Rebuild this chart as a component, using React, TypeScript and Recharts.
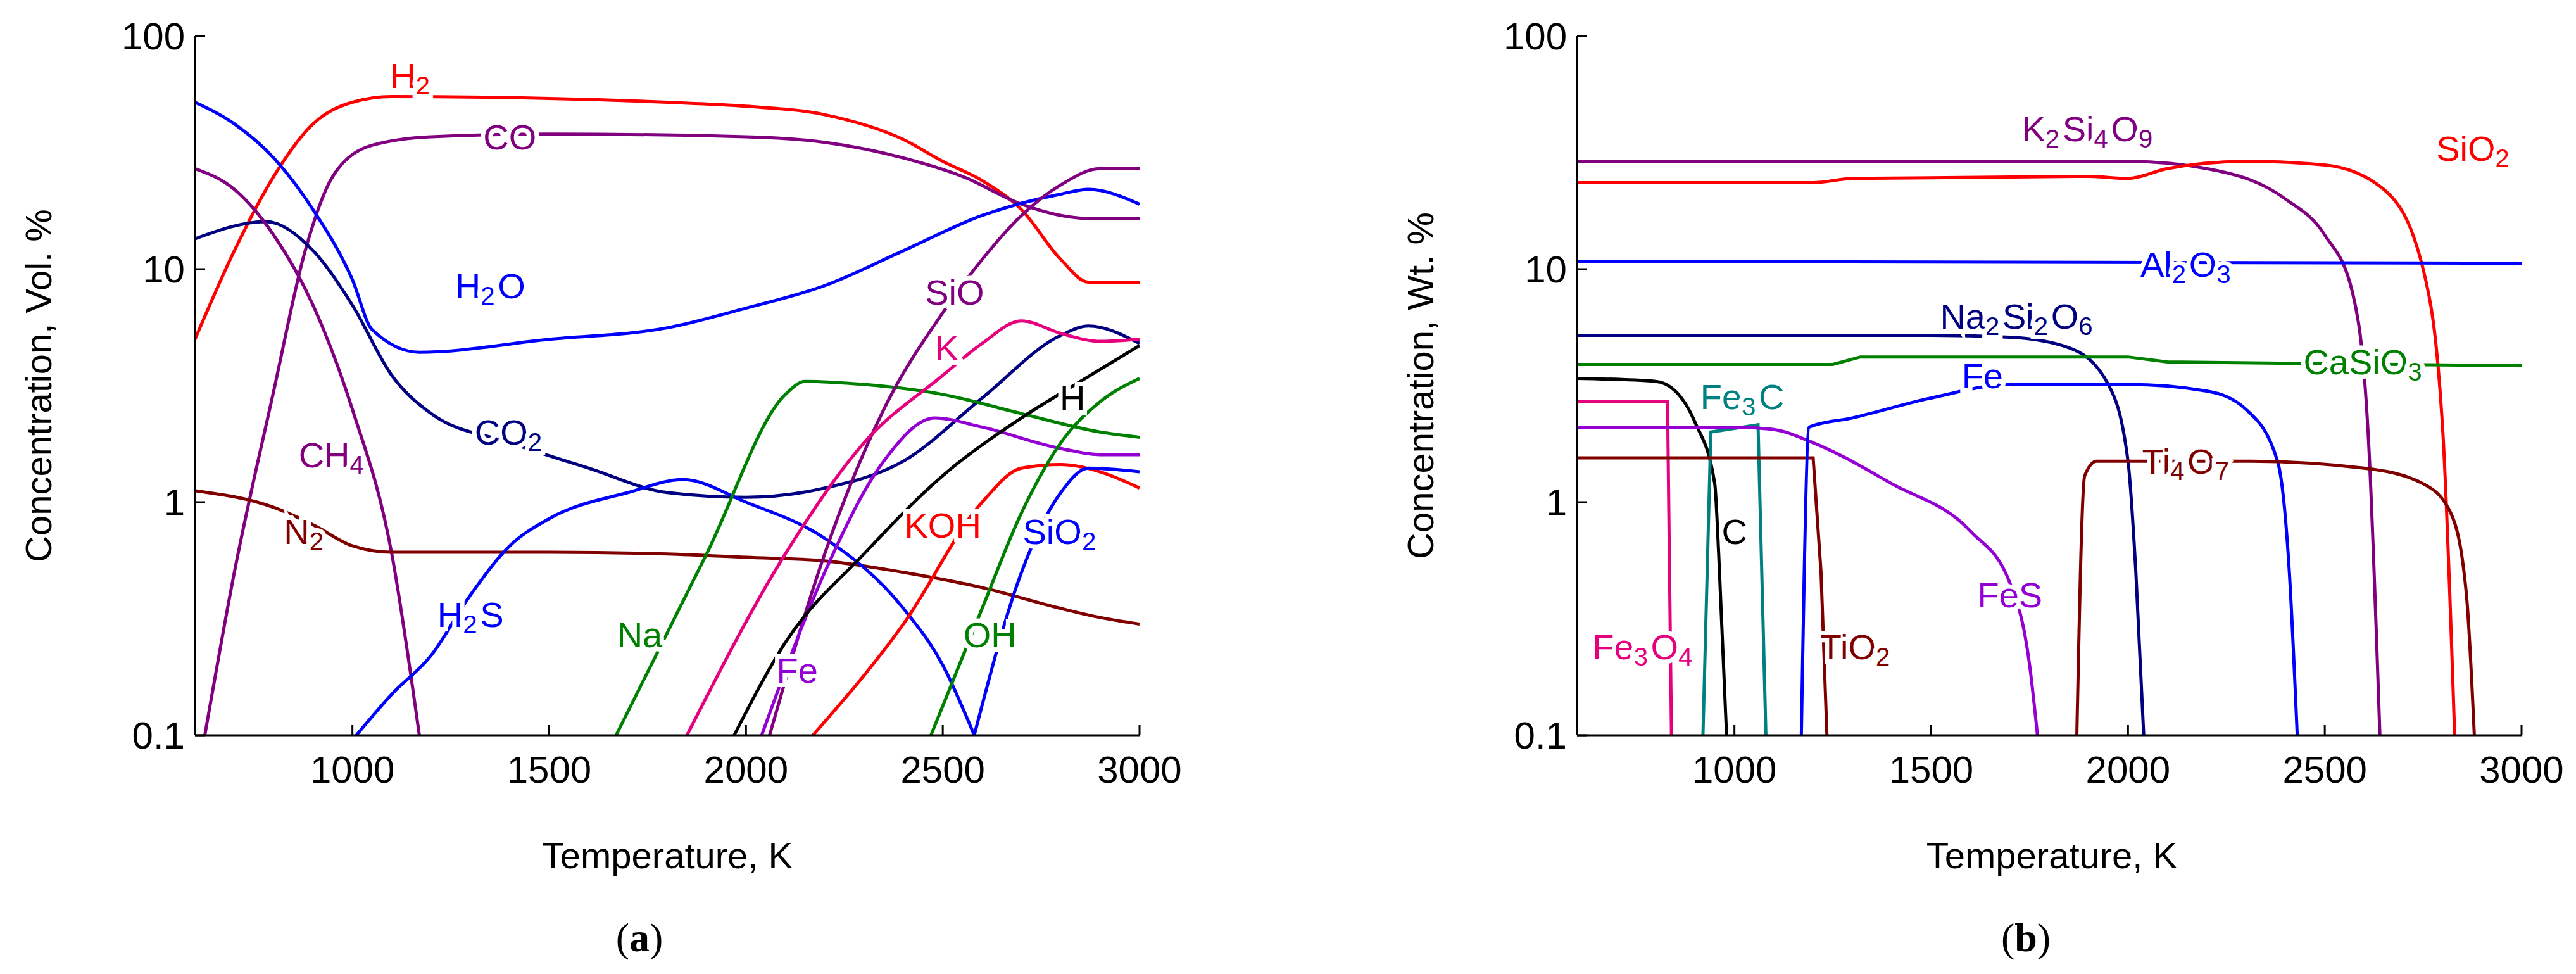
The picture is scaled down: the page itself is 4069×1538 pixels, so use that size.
import React from 'react'
import { LineChart, Line, XAxis, YAxis, ReferenceDot } from 'recharts'

type P = [number, number]

// (a) gas phase, Vol. %
const h2: P[] = [[600, 5], [700, 12], [800, 25], [900, 42], [1000, 52], [1100, 55], [1500, 54], [1800, 52], [2000, 50], [2200, 46], [2400, 36], [2500, 29], [2600, 24], [2700, 18], [2800, 11], [2870, 8.8], [3000, 8.8]]
const co: P[] = [[625, 0.1], [700, 0.5], [800, 3], [880, 12], [950, 25], [1050, 34], [1200, 37], [1500, 38], [2000, 37], [2200, 35], [2400, 30], [2550, 25], [2700, 19], [2800, 17], [2870, 16.5], [3000, 16.5]]
const h2o: P[] = [[600, 52], [700, 42], [800, 30], [900, 18], [1000, 9], [1050, 5.5], [1170, 4.4], [1500, 5], [1800, 5.6], [2000, 6.8], [2200, 8.5], [2400, 12], [2600, 17], [2800, 21], [2870, 22], [3000, 19]]
const co2: P[] = [[600, 13.5], [780, 16], [900, 12], [1000, 7], [1100, 3.5], [1200, 2.4], [1400, 1.8], [1600, 1.4], [1800, 1.1], [2000, 1.05], [2200, 1.15], [2400, 1.5], [2600, 2.8], [2800, 5.2], [2870, 5.7], [3000, 4.8]]
const ch4: P[] = [[600, 27], [700, 22], [800, 14], [900, 7], [1000, 2.5], [1100, 0.6], [1170, 0.1]]
const n2: P[] = [[600, 1.12], [800, 0.95], [900, 0.8], [1000, 0.65], [1100, 0.61], [1500, 0.61], [1800, 0.6], [2000, 0.58], [2200, 0.56], [2400, 0.5], [2600, 0.43], [2800, 0.35], [2900, 0.32], [3000, 0.3]]
const h2s: P[] = [[1010, 0.1], [1100, 0.15], [1200, 0.22], [1300, 0.4], [1400, 0.65], [1500, 0.85], [1700, 1.1], [1840, 1.25], [2000, 1.0], [2200, 0.7], [2400, 0.35], [2500, 0.2], [2580, 0.1]]
const na: P[] = [[1670, 0.1], [1900, 0.6], [2100, 2.9], [2150, 3.3], [2300, 3.2], [2500, 2.9], [2700, 2.4], [2900, 2.0], [3000, 1.9]]
const sio: P[] = [[2060, 0.1], [2200, 0.6], [2350, 2.5], [2500, 6.5], [2600, 11], [2700, 17], [2800, 23], [2900, 27], [3000, 27]]
const k: P[] = [[1850, 0.1], [2100, 0.6], [2300, 1.8], [2500, 3.5], [2600, 4.8], [2700, 6], [2800, 5.3], [2900, 4.9], [3000, 5]]
const fe: P[] = [[2040, 0.1], [2200, 0.5], [2350, 1.5], [2480, 2.3], [2600, 2.1], [2800, 1.7], [2900, 1.6], [3000, 1.6]]
const h: P[] = [[1970, 0.1], [2100, 0.25], [2300, 0.6], [2500, 1.3], [2700, 2.3], [2850, 3.3], [3000, 4.7]]
const koh: P[] = [[2170, 0.1], [2400, 0.3], [2600, 1.0], [2700, 1.4], [2800, 1.45], [2900, 1.35], [3000, 1.15]]
const oh: P[] = [[2470, 0.1], [2600, 0.35], [2700, 0.9], [2800, 1.8], [2900, 2.7], [3000, 3.4]]
const sio2g: P[] = [[2580, 0.1], [2700, 0.5], [2800, 1.1], [2870, 1.4], [3000, 1.35]]

// (b) condensed phase, Wt. %
const k2si4o9: P[] = [[600, 29], [2000, 29], [2200, 27], [2400, 20], [2500, 14], [2570, 8], [2610, 2], [2640, 0.1]]
const sio2c: P[] = [[600, 23.5], [1200, 23.5], [1300, 24.5], [1900, 25], [2000, 24.5], [2100, 27], [2300, 29], [2500, 28], [2650, 22], [2750, 10], [2800, 2], [2830, 0.1]]
const al2o3: P[] = [[600, 10.8], [3000, 10.6]]
const na2si2o6: P[] = [[600, 5.2], [1500, 5.2], [1700, 5.1], [1850, 4.6], [1950, 3.2], [2000, 1.5], [2020, 0.5], [2040, 0.1]]
const casio3: P[] = [[600, 3.9], [1250, 3.9], [1320, 4.2], [2000, 4.2], [2100, 4.0], [3000, 3.85]]
const carbon: P[] = [[600, 3.4], [800, 3.3], [850, 3.0], [900, 2.2], [950, 1.2], [960, 0.6], [980, 0.1]]
const fe3o4: P[] = [[600, 2.7], [830, 2.7], [840, 0.1]]
const fe3c: P[] = [[920, 0.1], [940, 2.0], [1060, 2.15], [1080, 0.1]]
const fes: P[] = [[600, 2.1], [1000, 2.1], [1100, 2.05], [1200, 1.8], [1400, 1.2], [1600, 0.75], [1700, 0.45], [1750, 0.2], [1770, 0.1]]
const tio2: P[] = [[600, 1.55], [1200, 1.55], [1220, 0.5], [1235, 0.1]]
const fec: P[] = [[1170, 0.1], [1190, 2.1], [1300, 2.3], [1500, 2.8], [1700, 3.2], [2000, 3.2], [2200, 3.0], [2300, 2.5], [2380, 1.5], [2410, 0.5], [2430, 0.1]]
const ti4o7: P[] = [[1870, 0.1], [1890, 1.3], [1920, 1.5], [2300, 1.5], [2600, 1.4], [2750, 1.2], [2820, 0.9], [2860, 0.4], [2880, 0.1]]

const xTicks = [1000, 1500, 2000, 2500, 3000]
const yTicks = [0.1, 1, 10, 100]

const RED = '#ff0000', BLUE = '#0000ff', PURPLE = '#800080', NAVY = '#000080', BROWN = '#800000'
const GREEN = '#008000', PINK = '#e6007e', VIOLET = '#9400d3', TEAL = '#008080', BLACK = '#000000'

type Series = { d: P[]; c: string; lin?: boolean }
// label: [base, sub] pairs, x, y, colour
type Lab = { parts: [string, string][]; x: number; y: number; c: string }

const seriesA: Series[] = [
  { d: h2, c: RED }, { d: co, c: PURPLE }, { d: h2o, c: BLUE }, { d: co2, c: NAVY }, { d: ch4, c: PURPLE },
  { d: n2, c: BROWN }, { d: h2s, c: BLUE }, { d: na, c: GREEN }, { d: sio, c: PURPLE }, { d: k, c: PINK },
  { d: fe, c: VIOLET }, { d: h, c: BLACK }, { d: koh, c: RED }, { d: oh, c: GREEN }, { d: sio2g, c: BLUE },
]
const labelsA: Lab[] = [
  { parts: [['H', '2']], x: 1150, y: 68, c: RED },
  { parts: [['CO', '']], x: 1400, y: 37, c: PURPLE },
  { parts: [['H', '2'], ['O', '']], x: 1350, y: 8.5, c: BLUE },
  { parts: [['CO', '2']], x: 1400, y: 2.0, c: NAVY },
  { parts: [['CH', '4']], x: 950, y: 1.6, c: PURPLE },
  { parts: [['N', '2']], x: 880, y: 0.75, c: BROWN },
  { parts: [['H', '2'], ['S', '']], x: 1300, y: 0.33, c: BLUE },
  { parts: [['Na', '']], x: 1730, y: 0.27, c: GREEN },
  { parts: [['Fe', '']], x: 2130, y: 0.19, c: VIOLET },
  { parts: [['KOH', '']], x: 2500, y: 0.8, c: RED },
  { parts: [['OH', '']], x: 2620, y: 0.27, c: GREEN },
  { parts: [['SiO', '2']], x: 2800, y: 0.75, c: BLUE },
  { parts: [['SiO', '']], x: 2530, y: 8, c: PURPLE },
  { parts: [['K', '']], x: 2510, y: 4.6, c: PINK },
  { parts: [['H', '']], x: 2830, y: 2.8, c: BLACK },
]

const seriesB: Series[] = [
  { d: k2si4o9, c: PURPLE }, { d: sio2c, c: RED }, { d: al2o3, c: BLUE }, { d: na2si2o6, c: NAVY },
  { d: casio3, c: GREEN, lin: true }, { d: carbon, c: BLACK }, { d: fe3o4, c: PINK, lin: true }, { d: fe3c, c: TEAL, lin: true },
  { d: fes, c: VIOLET }, { d: tio2, c: BROWN, lin: true }, { d: fec, c: BLUE }, { d: ti4o7, c: BROWN },
]
const labelsB: Lab[] = [
  { parts: [['K', '2'], ['Si', '4'], ['O', '9']], x: 1900, y: 40, c: PURPLE },
  { parts: [['SiO', '2']], x: 2880, y: 33, c: RED },
  { parts: [['Al', '2'], ['O', '3']], x: 2150, y: 10.5, c: BLUE },
  { parts: [['Na', '2'], ['Si', '2'], ['O', '6']], x: 1720, y: 6.3, c: NAVY },
  { parts: [['CaSiO', '3']], x: 2600, y: 4.0, c: GREEN },
  { parts: [['Fe', '3'], ['C', '']], x: 1020, y: 2.85, c: TEAL },
  { parts: [['Fe', '']], x: 1630, y: 3.5, c: BLUE },
  { parts: [['C', '']], x: 1000, y: 0.75, c: BLACK },
  { parts: [['Fe', '3'], ['O', '4']], x: 770, y: 0.24, c: PINK },
  { parts: [['TiO', '2']], x: 1310, y: 0.24, c: BROWN },
  { parts: [['FeS', '']], x: 1700, y: 0.4, c: VIOLET },
  { parts: [['Ti', '4'], ['O', '7']], x: 2150, y: 1.5, c: BROWN },
]

const FONT = '"Liberation Sans", Arial, sans-serif'
const TICK = { fill: '#000', fontSize: 60, fontFamily: FONT }

const ChemLabel = ({ viewBox, parts, c }: any) => {
  const cx = viewBox?.cx ?? viewBox?.x ?? 0
  const cy = viewBox?.cy ?? viewBox?.y ?? 0
  return (
    <text x={cx} y={cy} textAnchor="middle" dominantBaseline="central" fill={c} fontSize={56} fontFamily={FONT}
      stroke="#fff" strokeWidth={14} paintOrder="stroke">
      {parts.map(([b, s]: [string, string], i: number) => (
        <React.Fragment key={i}>
          <tspan>{b}</tspan>
          {s && <tspan dy={16} fontSize={40}>{s}</tspan>}
          {s && <tspan dy={-16}>{'\u200a'}</tspan>}
        </React.Fragment>
      ))}
    </text>
  )
}

function Panel({ series, labels }: { series: Series[]; labels: Lab[] }) {
  return (
    <LineChart width={1900} height={1300} margin={{ top: 57, right: 100, left: 108, bottom: 0 }} style={{ overflow: 'visible' }}>
      <XAxis xAxisId="b" type="number" dataKey="0" domain={[600, 3000]} ticks={xTicks} allowDataOverflow
        stroke="#000" strokeWidth={3} tickSize={-16} tickMargin={48} tick={TICK} height={139} />
      <XAxis xAxisId="t" orientation="top" type="number" dataKey="0" domain={[600, 3000]} ticks={xTicks}
        stroke="#000" strokeWidth={3} tickSize={-16} tick={false} height={0} />
      <YAxis yAxisId="l" type="number" scale="log" domain={[0.1, 100]} ticks={yTicks} allowDataOverflow
        stroke="#000" strokeWidth={3} tickSize={-16} tickMargin={32} tick={TICK} width={200} />
      <YAxis yAxisId="r" orientation="right" type="number" scale="log" domain={[0.1, 100]} ticks={yTicks}
        stroke="#000" strokeWidth={3} tickSize={-16} tick={false} width={0} />
      {series.map((s, i) => (
        <Line key={i} xAxisId="b" yAxisId="l" data={s.d.map(([x, y]) => ({ 0: x, 1: y }))} dataKey="1"
          type={s.lin ? 'linear' : 'monotone'} stroke={s.c} strokeWidth={5} dot={false} isAnimationActive={false} />
      ))}
      {labels.map((l, i) => (
        <ReferenceDot key={i} xAxisId="b" yAxisId="l" x={l.x} y={l.y} r={0} stroke="none"
          label={(p: any) => <ChemLabel {...p} parts={l.parts} c={l.c} />} />
      ))}
    </LineChart>
  )
}

export default function App() {
  return (
    <div style={{ position: 'relative', width: 4069, height: 1538, margin: -8, background: '#fff', overflow: 'hidden' }}>
      <div style={{ position: 'absolute', left: 0, top: 0 }}>
        <Panel series={seriesA} labels={labelsA} />
      </div>
      <div style={{ position: 'absolute', left: 2183, top: 0 }}>
        <Panel series={seriesB} labels={labelsB} />
      </div>
      <svg width={4069} height={1538} style={{ position: 'absolute', left: 0, top: 0, pointerEvents: 'none' }}
        fontFamily={FONT} fontSize={58}>
        <text x={60} y={609} transform="rotate(-90 60 609)" textAnchor="middle" dominantBaseline="central">Concentration, Vol. %</text>
        <text x={2243} y={609} transform="rotate(-90 2243 609)" textAnchor="middle" dominantBaseline="central">Concentration, Wt. %</text>
        <text x={1054} y={1350} textAnchor="middle" dominantBaseline="central">Temperature, K</text>
        <text x={3241} y={1350} textAnchor="middle" dominantBaseline="central">Temperature, K</text>
        <text x={1010} y={1480} textAnchor="middle" dominantBaseline="central" fontFamily='"Liberation Serif", serif' fontSize={64}>(<tspan fontWeight="bold">a</tspan>)</text>
        <text x={3200} y={1480} textAnchor="middle" dominantBaseline="central" fontFamily='"Liberation Serif", serif' fontSize={64}>(<tspan fontWeight="bold">b</tspan>)</text>
      </svg>
    </div>
  )
}
